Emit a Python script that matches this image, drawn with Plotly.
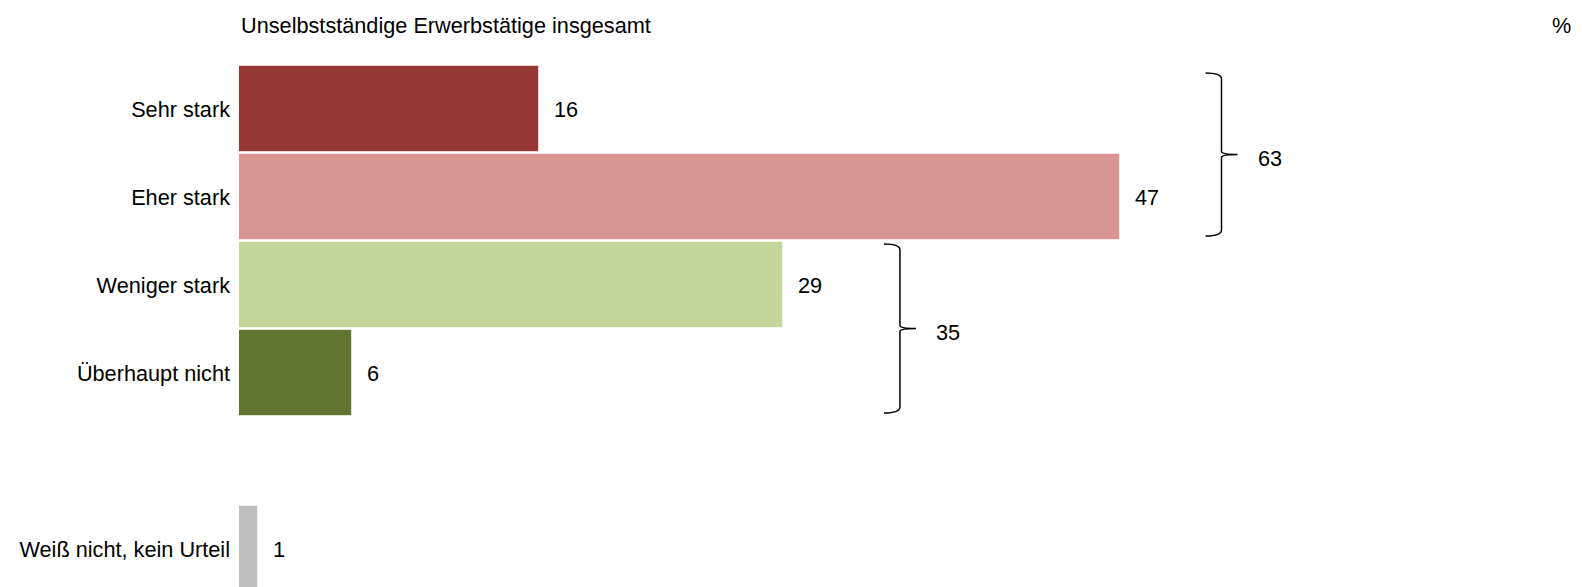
import plotly.graph_objects as go

# ---- data ----
categories = ["Sehr stark", "Eher stark", "Weniger stark", "Überhaupt nicht", "Weiß nicht, kein Urteil"]
values = [16, 47, 29, 6, 1]
positions = [0, 1, 2, 3, 5]
colors = ["#953735", "#D99594", "#C3D69B", "#5F7530", "#BFBFBF"]
groups = [[0, 1], [2, 3]]
title_text = "Unselbstständige Erwerbstätige insgesamt"
unit_text = "%"

# ---- layout constants (page body has an 8px margin) ----
OFF = 8
W, H = 1582, 587 - OFF
ML, MR, MT, MB = 239 - OFF, 0, 0, 0
PX_PER_UNIT = 18.75
PITCH = 88.0
FIRST_CENTER = 109.0 - OFF
plot_w = W - ML - MR
plot_h = H - MT - MB
x_range = [0, plot_w / PX_PER_UNIT]
y_top = (MT - FIRST_CENTER) / PITCH
y_bot = y_top + plot_h / PITCH
FONT = dict(family="Liberation Sans, Arial, sans-serif", size=21.7, color="#000000")

def px2x(px):
    return px / PX_PER_UNIT

def px2y(px):
    return px / PITCH

fig = go.Figure()
fig.add_trace(go.Bar(
    x=values, y=positions, orientation="h",
    marker=dict(color=colors, line=dict(color="rgba(255,255,255,0.6)", width=1)),
    width=0.98, hoverinfo="skip",
))

annotations = []
for v, p in zip(values, positions):
    annotations.append(dict(x=v, y=p, xref="x", yref="y", text=str(v), showarrow=False,
                            xanchor="left", yanchor="middle", xshift=13, font=FONT))

shapes = []
brace_x = [52.4, 35.25]
brace_inset_top = [8, 3]
brace_inset_bot = [5, 4]
for gi, g in enumerate(groups):
    ps = [positions[i] for i in g]
    top = min(ps) - 0.5 + px2y(brace_inset_top[gi])
    bot = max(ps) + 0.5 - px2y(brace_inset_bot[gi])
    mid = (top + bot) / 2
    bx = brace_x[gi]
    hl = bx - px2x(16)
    sp = bx + px2x(16)
    c = px2y(6)
    cm = px2y(3)
    path = (f"M {hl},{top} Q {bx},{top} {bx},{top + c} "
            f"L {bx},{mid - cm} Q {bx},{mid} {sp},{mid} "
            f"Q {bx},{mid} {bx},{mid + cm} "
            f"L {bx},{bot - c} Q {bx},{bot} {hl},{bot}")
    shapes.append(dict(type="path", path=path, xref="x", yref="y",
                       line=dict(color="#000000", width=1.5)))
    total = sum(values[i] for i in g)
    annotations.append(dict(x=sp, y=mid, xref="x", yref="y", text=str(total), showarrow=False,
                            xanchor="left", yanchor="middle", xshift=18, yshift=-4, font=FONT))

annotations.append(dict(x=0, y=1 - (25 - OFF) / H, xref="paper", yref="paper", text=title_text,
                        showarrow=False, xanchor="left", yanchor="middle", xshift=0, font=FONT))
annotations.append(dict(x=1, y=1 - (25 - OFF) / H, xref="paper", yref="paper", text=unit_text,
                        showarrow=False, xanchor="right", yanchor="middle", xshift=-17, font=FONT))

fig.update_layout(
    width=W, height=H,
    margin=dict(l=ML, r=MR, t=MT, b=MB, pad=0),
    paper_bgcolor="white", plot_bgcolor="white",
    showlegend=False,
    bargap=0,
    font=FONT,
    xaxis=dict(range=x_range, visible=False, fixedrange=True),
    yaxis=dict(range=[y_bot, y_top], tickvals=positions, ticktext=categories,
               showgrid=False, zeroline=False, showline=False, ticks="",
               ticklabelstandoff=8, tickfont=FONT, fixedrange=True),
    shapes=shapes,
    annotations=annotations,
)

fig.write_html("out.html", post_script="document.body.style.overflow='hidden';")
